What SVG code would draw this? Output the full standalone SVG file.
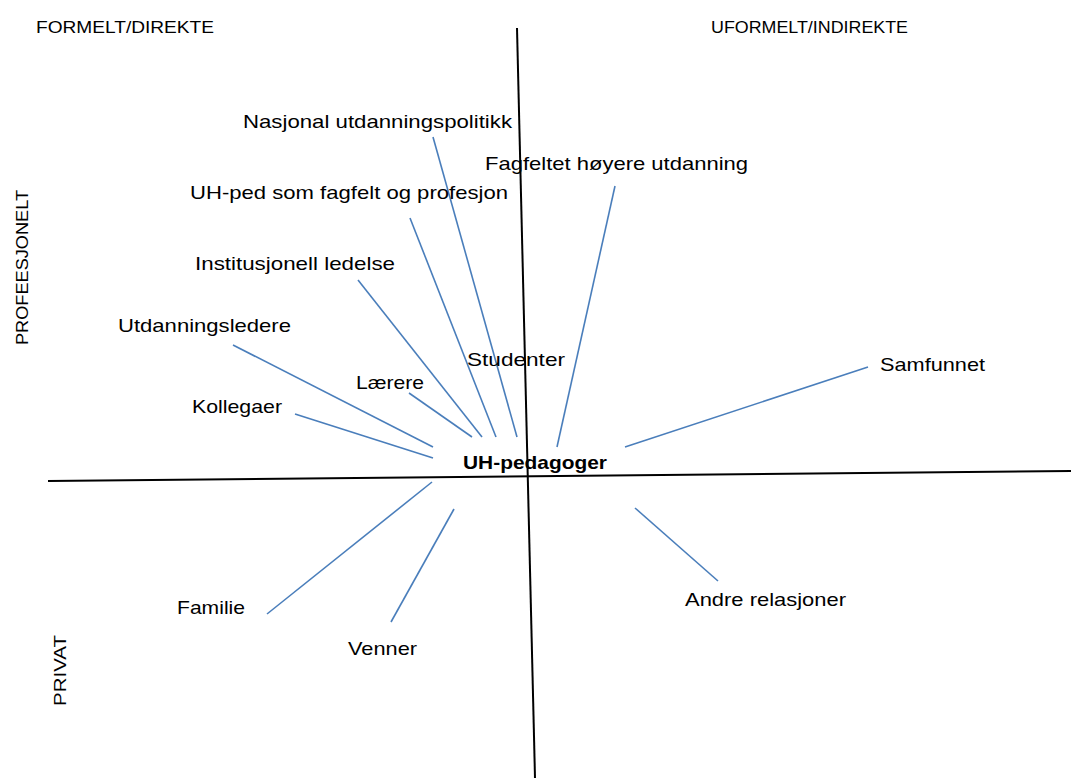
<svg xmlns="http://www.w3.org/2000/svg" width="1071" height="781" viewBox="0 0 1071 781">
<style>
.t{font-family:"Liberation Sans",Arial,sans-serif;font-size:19px;fill:#000}
.s{font-family:"Liberation Sans",Arial,sans-serif;font-size:16px;fill:#000}
.b{font-weight:bold}
.c line{stroke:#4a7ebb;stroke-width:1.6}
.ax line{stroke:#000;stroke-width:2}
</style>
<rect width="1071" height="781" fill="#fff"/>
<g id="axes" class="ax">
<line x1="517" y1="28" x2="535" y2="778"/>
<line x1="48" y1="481" x2="1071" y2="471"/>
</g>
<g id="connectors" class="c">
<line x1="433" y1="137" x2="517" y2="437"/>
<line x1="410" y1="218" x2="496" y2="437"/>
<line x1="358" y1="280" x2="482" y2="437"/>
<line x1="233" y1="345" x2="433" y2="447"/>
<line x1="295" y1="414" x2="433" y2="458"/>
<line x1="409" y1="393" x2="472" y2="437"/>
<line x1="615" y1="186" x2="557" y2="447"/>
<line x1="868" y1="367" x2="625" y2="447"/>
<line x1="432" y1="482" x2="267" y2="614"/>
<line x1="454" y1="509" x2="391" y2="622"/>
<line x1="635" y1="508" x2="718" y2="581"/>
</g>
<g id="labels">
<text class="s" x="36" y="33" textLength="178" lengthAdjust="spacingAndGlyphs">FORMELT/DIREKTE</text>
<text class="s" x="711" y="33" textLength="197" lengthAdjust="spacingAndGlyphs">UFORMELT/INDIREKTE</text>
<text class="s" transform="translate(28,345) rotate(-90)" textLength="155" lengthAdjust="spacingAndGlyphs">PROFEESJONELT</text>
<text class="s" transform="translate(66,706) rotate(-90)" textLength="71" lengthAdjust="spacingAndGlyphs">PRIVAT</text>
</g>
<g id="center"><text class="t b" x="463" y="469" textLength="144" lengthAdjust="spacingAndGlyphs">UH-pedagoger</text></g>
<g id="n-nasjonal"><text class="t" x="243" y="128" textLength="269" lengthAdjust="spacingAndGlyphs">Nasjonal utdanningspolitikk</text></g>
<g id="n-fagfeltet"><text class="t" x="485" y="170" textLength="263" lengthAdjust="spacingAndGlyphs">Fagfeltet høyere utdanning</text></g>
<g id="n-uhped"><text class="t" x="190" y="199" textLength="318" lengthAdjust="spacingAndGlyphs">UH-ped som fagfelt og profesjon</text></g>
<g id="n-inst"><text class="t" x="195" y="270" textLength="200" lengthAdjust="spacingAndGlyphs">Institusjonell ledelse</text></g>
<g id="n-utd"><text class="t" x="118" y="332" textLength="173" lengthAdjust="spacingAndGlyphs">Utdanningsledere</text></g>
<g id="n-stud"><text class="t" x="467" y="366" textLength="98" lengthAdjust="spacingAndGlyphs">Studenter</text></g>
<g id="n-samf"><text class="t" x="880" y="371" textLength="105" lengthAdjust="spacingAndGlyphs">Samfunnet</text></g>
<g id="n-laerere"><text class="t" x="356" y="389" textLength="68" lengthAdjust="spacingAndGlyphs">Lærere</text></g>
<g id="n-koll"><text class="t" x="192" y="413" textLength="90" lengthAdjust="spacingAndGlyphs">Kollegaer</text></g>
<g id="n-fam"><text class="t" x="177" y="614" textLength="68" lengthAdjust="spacingAndGlyphs">Familie</text></g>
<g id="n-venner"><text class="t" x="348" y="655" textLength="69" lengthAdjust="spacingAndGlyphs">Venner</text></g>
<g id="n-andre"><text class="t" x="685" y="606" textLength="161" lengthAdjust="spacingAndGlyphs">Andre relasjoner</text></g>
</svg>
